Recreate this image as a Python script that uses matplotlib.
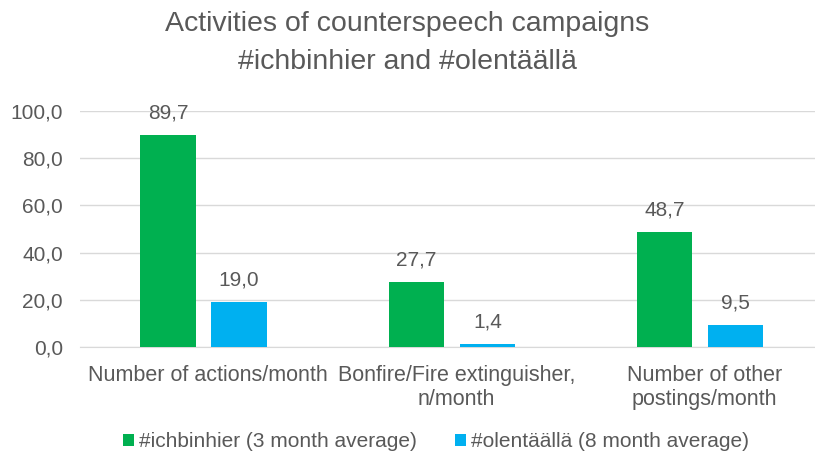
import matplotlib.pyplot as plt
import matplotlib.transforms as mtransforms
import numpy as np

plt.rcParams['font.family'] = ['Liberation Sans', 'DejaVu Sans']

categories = ["Number of actions/month", "Bonfire/Fire extinguisher,\nn/month", "Number of other\npostings/month"]
series_names = ["#ichbinhier (3 month average)", "#olentäällä (8 month average)"]
ichbinhier = [89.7, 27.7, 48.7]
olentaalla = [19.0, 1.4, 9.5]
yticks = [0, 20, 40, 60, 80, 100]
colors = ["#00B050", "#00B0F0"]
text_color = "#595959"

fig = plt.figure(figsize=(8.15, 4.55), dpi=100)
ax = fig.add_axes([79.6 / 815, 0.237, 744.5 / 815, 0.519])

x = np.arange(len(categories))
w = 0.224
off = 0.143
for vals, sign, c, name in [(ichbinhier, -1, colors[0], series_names[0]), (olentaalla, 1, colors[1], series_names[1])]:
    bars = ax.bar(x + sign * off, vals, width=w, color=c, label=name, zorder=3)
    for b, v in zip(bars, vals):
        ax.annotate(f"{v:.1f}".replace('.', ','), (b.get_x() + b.get_width() / 2, v),
                    xytext=(0, 9), textcoords='offset points', ha='center', va='bottom',
                    fontsize=15, color=text_color)

ax.set_xlim(-0.5, len(categories) - 0.5)
ax.set_ylim(0, 100)
ax.set_yticks(yticks)
ax.set_yticklabels([f"{t:.1f}".replace('.', ',') for t in yticks], fontsize=15, color=text_color)
ax.set_xticks(x)
ax.set_xticklabels(categories, fontsize=15.5, color=text_color, linespacing=1.15)
ax.tick_params(axis='x', length=0, pad=13)
ax.tick_params(axis='y', length=0, pad=12)
shift = mtransforms.ScaledTranslation(4.5 / 100, 0, fig.dpi_scale_trans)
for lbl in ax.get_xticklabels():
    lbl.set_transform(lbl.get_transform() + shift)
ax.grid(axis='y', color='#D9D9D9', linewidth=1, zorder=0)
for s in ['top', 'right', 'left']:
    ax.spines[s].set_visible(False)
ax.spines['bottom'].set_color('#D9D9D9')

fig.suptitle("Activities of counterspeech campaigns\n#ichbinhier and #olentäällä", fontsize=20.5,
             color=text_color, y=0.975, linespacing=1.6)

fig.legend(loc='lower center', bbox_to_anchor=(0.535, -0.033), ncol=2, frameon=False, fontsize=15,
           labelcolor=text_color, handlelength=0.55, handleheight=0.55, handletextpad=0.25, columnspacing=1.8)

fig.savefig("out.png", dpi=100)
